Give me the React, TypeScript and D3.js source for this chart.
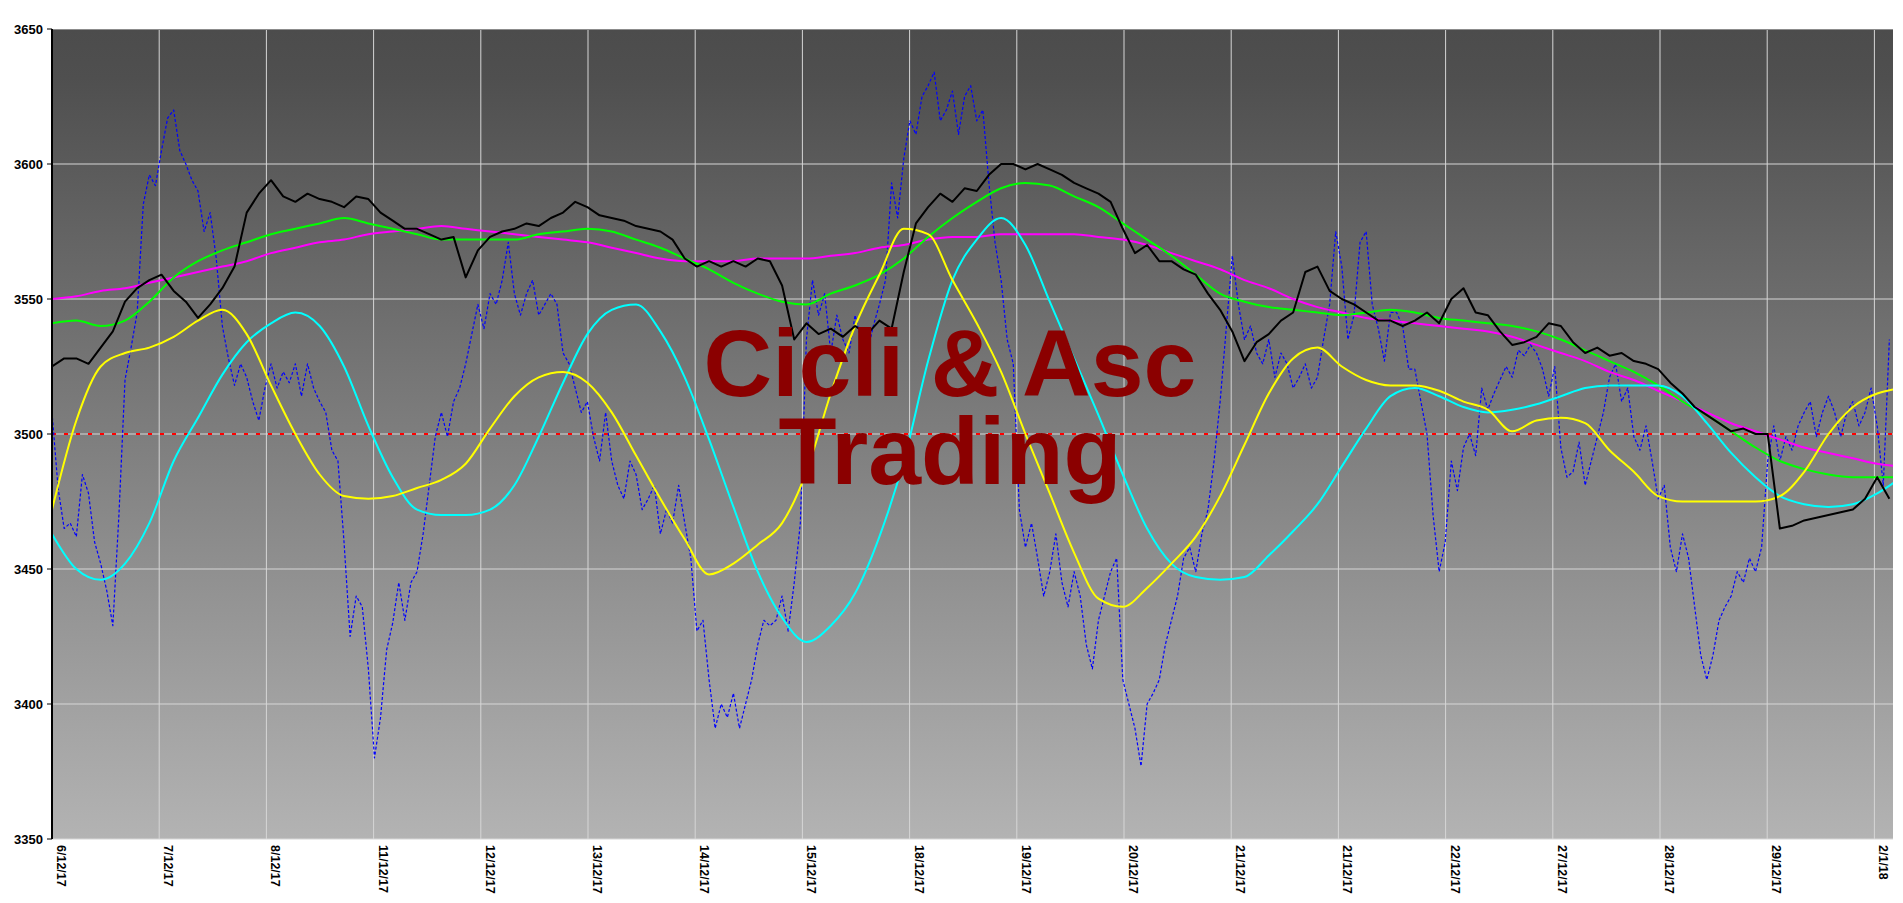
import { useEffect, useRef } from 'react';
import * as d3 from 'd3';

// one bar = 5 px of the original plot width; labels every ~17.6 bars
const BARS_PER_TICK = 17.62;

const tickLabels = [
  '6/12/17', '7/12/17', '8/12/17', '11/12/17', '12/12/17', '13/12/17', '14/12/17', '15/12/17',
  '18/12/17', '19/12/17', '20/12/17', '21/12/17', '21/12/17', '22/12/17', '27/12/17', '28/12/17',
  '29/12/17', '2/1/18',
];

const yTicks = [3350, 3400, 3450, 3500, 3550, 3600, 3650];

// price, one value every 2 bars
const price = [
  3525, 3528, 3528, 3526, 3532, 3538, 3549, 3554, 3557, 3559, 3553, 3549, 3543, 3548, 3554, 3562,
  3582, 3589, 3594, 3588, 3586, 3589, 3587, 3586, 3584, 3588, 3587, 3582, 3579, 3576, 3576, 3574,
  3572, 3573, 3558, 3568, 3573, 3575, 3576, 3578, 3577, 3580, 3582, 3586, 3584, 3581, 3580, 3579,
  3577, 3576, 3575, 3572, 3565, 3562, 3564, 3562, 3564, 3562, 3565, 3564, 3555, 3535, 3541, 3537,
  3539, 3536, 3540, 3537, 3542, 3539, 3560, 3578, 3584, 3589, 3586, 3591, 3590, 3596, 3600, 3600,
  3598, 3600, 3598, 3596, 3593, 3591, 3589, 3586, 3576, 3567, 3570, 3564, 3564, 3561, 3559, 3552,
  3546, 3538, 3527, 3534, 3537, 3542, 3545, 3560, 3562, 3553, 3550, 3548, 3545, 3542, 3542, 3540,
  3542, 3545, 3541, 3550, 3554, 3545, 3544, 3538, 3533, 3534, 3536, 3541, 3540, 3534, 3530, 3532,
  3529, 3530, 3527, 3526, 3524, 3519, 3515, 3510, 3507, 3504, 3501, 3502, 3500, 3500, 3465, 3466,
  3468, 3469, 3470, 3471, 3472, 3476, 3484, 3476,
];

// oscillator (dotted blue), one value per bar
const oscillator = [
  3508, 3480, 3465, 3467, 3462, 3485, 3478, 3460, 3452, 3442, 3429, 3470, 3520, 3532, 3545, 3585,
  3596, 3592, 3605, 3617, 3620, 3605, 3600, 3594, 3590, 3575, 3582, 3565, 3540, 3528, 3518, 3526,
  3521, 3512, 3505, 3517, 3526, 3517, 3523, 3519, 3526, 3514, 3526, 3517, 3512, 3508, 3494, 3490,
  3460, 3425, 3440, 3436, 3413, 3380, 3395, 3420, 3430, 3445, 3431, 3445, 3449, 3463, 3481, 3499,
  3508, 3499, 3512, 3517, 3526, 3537, 3548, 3539, 3552, 3548, 3557, 3571, 3552, 3544, 3552, 3557,
  3544, 3548, 3552, 3548, 3530, 3526, 3517, 3508, 3512, 3499, 3490, 3508, 3490, 3481, 3476, 3490,
  3485, 3472, 3476, 3481, 3463, 3472, 3467, 3481, 3467, 3454, 3427, 3431, 3409, 3391, 3400, 3395,
  3404, 3391, 3400, 3409, 3422, 3431, 3429, 3431, 3440, 3427, 3445, 3467, 3535, 3557, 3544, 3552,
  3530, 3544, 3535, 3530, 3544, 3535, 3530, 3540, 3548, 3557, 3593, 3580, 3602, 3616, 3611, 3625,
  3629, 3634, 3616, 3620, 3627, 3611, 3625, 3629, 3616, 3620, 3593, 3571, 3557, 3535, 3526, 3472,
  3458, 3467, 3454, 3440, 3449, 3463, 3445, 3436, 3449, 3440, 3422, 3413, 3431, 3440, 3449, 3454,
  3409, 3400, 3391, 3377, 3400, 3404, 3409, 3422, 3431, 3440, 3454, 3458, 3449, 3463, 3472, 3490,
  3512, 3539, 3566, 3548, 3535, 3540, 3530, 3526, 3535, 3521, 3530, 3526, 3517, 3521, 3526, 3517,
  3521, 3535, 3548, 3575, 3562, 3535, 3544, 3571, 3575, 3548, 3539, 3527, 3545, 3545, 3540, 3524,
  3524, 3512, 3500, 3470, 3449, 3460, 3490, 3479, 3495, 3500, 3492, 3517, 3509, 3515, 3520, 3525,
  3521, 3531, 3529, 3533, 3530, 3524, 3514, 3525, 3495, 3484, 3486, 3497, 3481, 3490, 3499, 3508,
  3521, 3526, 3512, 3517, 3499, 3494, 3503, 3490, 3476, 3481, 3458, 3449, 3463, 3454, 3436, 3418,
  3409, 3418, 3431, 3436, 3440, 3449, 3445, 3454, 3449, 3458, 3490, 3503, 3490, 3499, 3494, 3503,
  3508, 3512, 3499, 3508, 3514, 3508, 3499, 3508, 3512, 3503, 3508, 3517, 3503, 3481, 3535,
];

// smooth lines, one value every 4 bars
const fastAvg = [
  3541, 3542, 3540, 3542, 3549, 3558, 3564, 3568, 3571, 3574, 3576, 3578, 3580, 3578, 3576, 3574,
  3572, 3572, 3572, 3572, 3574, 3575, 3576, 3575, 3572, 3569, 3565, 3561, 3556, 3552, 3549, 3548,
  3552, 3555, 3559, 3565, 3573, 3580, 3586, 3591, 3593, 3592, 3588, 3584, 3578, 3572, 3566, 3559,
  3552, 3549, 3547, 3546, 3545, 3544, 3545, 3546, 3545, 3543, 3542, 3541, 3540, 3538, 3535, 3531,
  3527, 3523, 3518, 3512, 3507, 3501, 3495, 3490, 3487, 3485, 3484, 3484, 3484,
];

const slowAvg = [
  3550, 3551, 3553, 3554, 3556, 3558, 3560, 3562, 3564, 3567, 3569, 3571, 3572, 3574, 3575, 3576,
  3577, 3576, 3575, 3574, 3573, 3572, 3571, 3569, 3567, 3565, 3564, 3564, 3564, 3565, 3565, 3565,
  3566, 3567, 3569, 3570, 3572, 3573, 3573, 3574, 3574, 3574, 3574, 3573, 3572, 3570, 3567, 3564,
  3561, 3557, 3554, 3550, 3547, 3545, 3543, 3542, 3541, 3540, 3539, 3538, 3536, 3533, 3530, 3527,
  3523, 3520, 3516, 3512, 3508, 3504, 3501, 3498, 3495, 3493, 3491, 3489, 3488,
];

const cycleShort = [
  3472, 3505, 3525, 3530, 3532, 3536, 3542, 3546, 3537, 3518, 3500, 3485, 3477, 3476, 3477, 3480,
  3483, 3489, 3502, 3514, 3521, 3523, 3519, 3508, 3492, 3476, 3461, 3448, 3452, 3459, 3467, 3486,
  3515, 3540, 3559, 3576, 3574, 3557, 3541, 3523, 3500, 3478, 3456, 3439, 3436, 3443, 3452, 3462,
  3477, 3496, 3515, 3528, 3532, 3525, 3520, 3518, 3518, 3516, 3512, 3509, 3501, 3505, 3506, 3504,
  3494, 3486, 3477, 3475, 3475, 3475, 3475, 3477, 3486, 3500, 3510, 3515, 3517,
];

const cycleLong = [
  3463, 3450, 3446, 3452, 3467, 3490, 3506, 3522, 3534, 3541, 3545, 3540, 3525, 3503, 3484, 3472,
  3470, 3470, 3472, 3481, 3499, 3519, 3537, 3546, 3548, 3538, 3521, 3498, 3473, 3449, 3432, 3423,
  3429, 3441, 3462, 3490, 3527, 3557, 3572, 3580, 3570, 3549, 3528, 3507, 3485, 3465, 3452, 3447,
  3446, 3447, 3455, 3464, 3474, 3488, 3502, 3514, 3517, 3514, 3510, 3508, 3509, 3511, 3514, 3517,
  3518, 3518, 3518, 3514, 3504, 3493, 3484, 3477, 3474, 3473, 3474, 3478, 3484,
];

const titleLines = ['Cicli & Asc', 'Trading'];

const W = 1903;
const H = 903;
const margin = { top: 29, right: 10, bottom: 64, left: 52 };

export default function App() {
  const svgRef = useRef<SVGSVGElement>(null);

  useEffect(() => {
    if (!svgRef.current) return;
    const svg = d3.select(svgRef.current);
    svg.selectAll('*').remove();

    const innerWidth = W - margin.left - margin.right;
    const innerHeight = H - margin.top - margin.bottom;
    const totalBars = innerWidth / (107.2 / BARS_PER_TICK);

    const x = d3.scaleLinear().domain([0, totalBars]).range([0, innerWidth]);
    const y = d3.scaleLinear().domain([3350, 3650]).range([innerHeight, 0]);

    const defs = svg.append('defs');
    const grad = defs.append('linearGradient')
      .attr('id', 'bg')
      .attr('x1', 0).attr('y1', 0).attr('x2', 0).attr('y2', 1);
    grad.append('stop').attr('offset', '0%').attr('stop-color', '#4c4c4c');
    grad.append('stop').attr('offset', '6%').attr('stop-color', '#4f4f4f');
    grad.append('stop').attr('offset', '100%').attr('stop-color', '#b3b3b3');

    defs.append('clipPath').attr('id', 'plot')
      .append('rect').attr('width', innerWidth).attr('height', innerHeight);

    const g = svg.append('g')
      .attr('transform', `translate(${margin.left},${margin.top})`);

    g.append('rect')
      .attr('width', innerWidth)
      .attr('height', innerHeight)
      .attr('fill', 'url(#bg)');

    // grid
    const tickPos = tickLabels.map((_, i) => i * BARS_PER_TICK);
    g.append('g')
      .selectAll('line')
      .data(tickPos.slice(1))
      .enter().append('line')
      .attr('x1', d => x(d)).attr('x2', d => x(d))
      .attr('y1', 0).attr('y2', innerHeight)
      .attr('stroke', '#d6d6d6').attr('stroke-width', 1);

    g.append('g')
      .selectAll('line')
      .data(yTicks.slice(0, -1))
      .enter().append('line')
      .attr('x1', 0).attr('x2', innerWidth)
      .attr('y1', d => y(d)).attr('y2', d => y(d))
      .attr('stroke', '#d6d6d6').attr('stroke-width', 1);

    // top border
    g.append('line')
      .attr('x1', 0).attr('x2', innerWidth).attr('y1', 0.5).attr('y2', 0.5)
      .attr('stroke', '#8c8c8c').attr('stroke-width', 1);

    const plot = g.append('g').attr('clip-path', 'url(#plot)');

    // zero line of the oscillator
    plot.append('line')
      .attr('x1', 0).attr('x2', innerWidth)
      .attr('y1', y(3500)).attr('y2', y(3500))
      .attr('stroke', '#ff0000').attr('stroke-width', 2)
      .attr('stroke-dasharray', '4,8');

    const addLine = (vals: number[], step: number, color: string, width: number, dash?: string, smooth?: boolean) => {
      const line = d3.line<number>()
        .x((_, i) => x(i * step))
        .y(d => y(d));
      if (smooth) line.curve(d3.curveMonotoneX);
      plot.append('path')
        .datum(vals)
        .attr('fill', 'none')
        .attr('stroke', color)
        .attr('stroke-width', width)
        .attr('stroke-dasharray', dash ?? null)
        .attr('stroke-linejoin', 'round')
        .attr('d', line);
    };

    addLine(oscillator, 1, '#0000ff', 1.2, '3,2');

    // title watermark, one text block with two lines
    const title = g.append('text')
      .attr('font-family', '"Liberation Sans", Arial, sans-serif')
      .attr('font-weight', 'bold')
      .attr('font-size', 95)
      .attr('fill', '#8b0000')
      .attr('text-anchor', 'middle')
      .attr('x', 950 - margin.left)
      .attr('y', 396 - margin.top);
    titleLines.forEach((t, i) => {
      title.append('tspan')
        .attr('x', 950 - margin.left)
        .attr('dy', i === 0 ? 0 : 88)
        .text(t);
    });

    addLine(slowAvg, 4, '#ff00ff', 2, undefined, true);
    addLine(fastAvg, 4, '#00ff00', 2, undefined, true);
    addLine(cycleLong, 4, '#00ffff', 2, undefined, true);
    addLine(cycleShort, 4, '#ffff00', 2, undefined, true);
    addLine(price, 2, '#000000', 2);

    // y axis
    const yAxis = g.append('g');
    yAxis.append('line')
      .attr('x1', 0).attr('x2', 0).attr('y1', 0).attr('y2', innerHeight)
      .attr('stroke', '#000').attr('stroke-width', 2);
    yTicks.forEach(t => {
      yAxis.append('line')
        .attr('x1', -5).attr('x2', 0).attr('y1', y(t)).attr('y2', y(t))
        .attr('stroke', '#000').attr('stroke-width', 1);
      yAxis.append('text')
        .attr('x', -9).attr('y', y(t)).attr('dy', '0.35em')
        .attr('text-anchor', 'end')
        .attr('font-family', '"Liberation Sans", Arial, sans-serif')
        .attr('font-size', 13)
        .attr('font-weight', 'bold')
        .attr('fill', '#000')
        .text(t);
    });

    // x labels, vertical
    const xAxis = g.append('g').attr('transform', `translate(0,${innerHeight})`);
    tickLabels.forEach((lab, i) => {
      xAxis.append('text')
        .attr('transform', `translate(${x(tickPos[i]) + 5},6) rotate(90)`)
        .attr('text-anchor', 'start')
        .attr('font-family', '"Liberation Sans", Arial, sans-serif')
        .attr('font-size', 12.5)
        .attr('font-weight', 'bold')
        .attr('fill', '#000')
        .text(lab);
    });
  }, []);

  return (
    <div style={{ position: 'absolute', left: 0, top: 0, background: '#fff' }}>
      <svg ref={svgRef} width={W} height={H} />
    </div>
  );
}
